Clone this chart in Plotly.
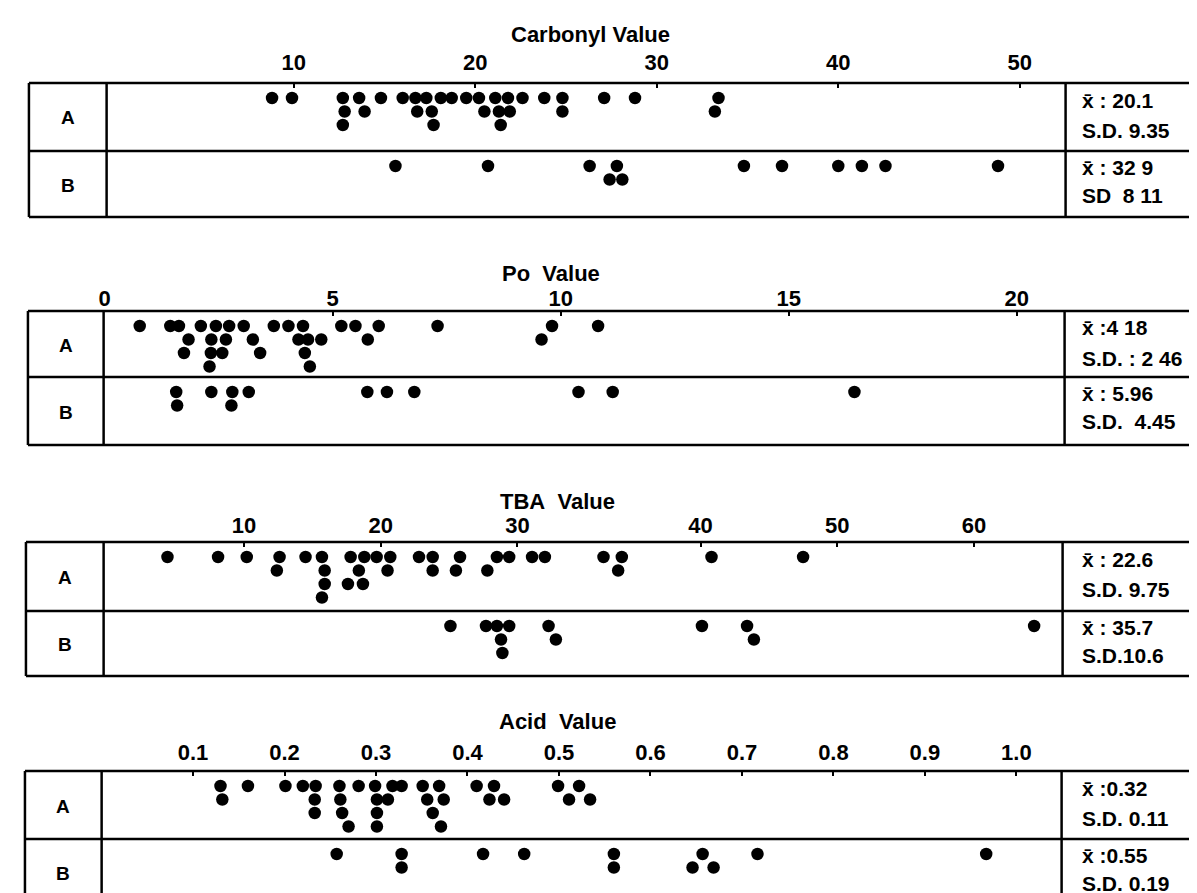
import numpy as np
import plotly.graph_objects as go

W, H = 1197, 893
FONT = "Liberation Sans, Arial, DejaVu Sans"

# ---------------- data ----------------
# Carbonyl value
carbonyl_ticks = [10, 20, 30, 40, 50]
carbonyl_A = [8.8, 9.9, 12.7, 13.6, 14.8, 16.0, 16.7, 17.3, 18.1, 18.7, 19.5, 20.2, 21.1, 21.8,
              22.6, 23.8, 24.8, 27.1, 28.8, 33.4,
              12.8, 13.9, 16.8, 17.6, 20.5, 21.3, 21.9, 24.8, 33.2,
              12.7, 17.7, 21.4]
carbonyl_A_stack = [0, 0, 0, 0, 0, 0, 0, 0, 0, 0, 0, 0, 0, 0, 0, 0, 0, 0, 0, 0,
                    1, 1, 1, 1, 1, 1, 1, 1, 1,
                    2, 2, 2]
carbonyl_B = [15.6, 20.7, 26.3, 27.8, 34.8, 36.9, 40.0, 41.3, 42.6, 48.8,
              27.4, 28.1]
carbonyl_B_stack = [0, 0, 0, 0, 0, 0, 0, 0, 0, 0,
                    1, 1]
carbonyl_stats = [["x\u0304 : 20.1", "S.D. 9.35"], ["x\u0304 : 32 9", "SD\u00a0 8 11"]]

# Po value
po_ticks = [0, 5, 10, 15, 20]
po_A = [0.77, 1.44, 1.63, 2.11, 2.44, 2.73, 3.05, 3.71, 4.03, 4.35, 5.19, 5.50, 6.01, 7.30, 9.81, 10.82,
        1.84, 2.34, 2.66, 3.25, 4.25, 4.46, 4.75, 5.77, 9.58,
        1.74, 2.33, 2.58, 3.41, 4.39,
        2.30, 4.50]
po_A_stack = [0, 0, 0, 0, 0, 0, 0, 0, 0, 0, 0, 0, 0, 0, 0, 0,
              1, 1, 1, 1, 1, 1, 1, 1, 1,
              2, 2, 2, 2, 2,
              3, 3]
po_B = [1.57, 2.34, 2.80, 3.16, 5.76, 6.19, 6.79, 10.39, 11.14, 16.44,
        1.59, 2.78]
po_B_stack = [0, 0, 0, 0, 0, 0, 0, 0, 0, 0,
              1, 1]
po_stats = [["x\u0304 :4 18", "S.D. : 2 46"], ["x\u0304 : 5.96", "S.D.\u00a0 4.45"]]

# TBA value
tba_ticks = [10, 20, 30, 40, 50, 60]
tba_A = [4.4, 8.1, 10.2, 12.6, 14.5, 15.7, 17.8, 18.8, 19.7, 20.7, 22.8, 23.8, 25.8, 28.5,
         29.4, 30.8, 31.5, 34.7, 35.7, 40.8, 47.5,
         12.4, 15.9, 18.4, 20.5, 23.8, 25.5, 27.8, 35.5,
         15.9, 17.6, 18.7,
         15.7]
tba_A_stack = [0, 0, 0, 0, 0, 0, 0, 0, 0, 0, 0, 0, 0, 0, 0, 0, 0, 0, 0, 0, 0,
               1, 1, 1, 1, 1, 1, 1, 1,
               2, 2, 2,
               3]
tba_B = [25.1, 27.7, 28.5, 29.4, 31.7, 40.1, 43.4, 64.4,
         28.8, 32.1, 43.9,
         28.9]
tba_B_stack = [0, 0, 0, 0, 0, 0, 0, 0,
               1, 1, 1,
               2]
tba_stats = [["x\u0304 : 22.6", "S.D. 9.75"], ["x\u0304 : 35.7", "S.D.10.6"]]

# Acid value
acid_ticks = [0.1, 0.2, 0.3, 0.4, 0.5, 0.6, 0.7, 0.8, 0.9, 1.0]
acid_tick_labels = ["0.1", "0.2", "0.3", "0.4", "0.5", "0.6", "0.7", "0.8", "0.9", "1.0"]
acid_A = [0.130, 0.160, 0.201, 0.220, 0.234, 0.260, 0.281, 0.299, 0.318, 0.328, 0.351, 0.369,
          0.410, 0.429, 0.499, 0.522,
          0.132, 0.233, 0.261, 0.301, 0.313, 0.356, 0.374, 0.424, 0.440, 0.511, 0.534,
          0.233, 0.263, 0.301, 0.362,
          0.270, 0.301, 0.371]
acid_A_stack = [0, 0, 0, 0, 0, 0, 0, 0, 0, 0, 0, 0, 0, 0, 0, 0,
                1, 1, 1, 1, 1, 1, 1, 1, 1, 1, 1,
                2, 2, 2, 2,
                3, 3, 3]
acid_B = [0.257, 0.328, 0.417, 0.462, 0.560, 0.657, 0.717, 0.967,
          0.328, 0.560, 0.646, 0.669]
acid_B_stack = [0, 0, 0, 0, 0, 0, 0, 0,
                1, 1, 1, 1]
acid_stats = [["x\u0304 :0.32", "S.D. 0.11"], ["x\u0304 :0.55", "S.D. 0.19"]]

groups = ["A", "B"]

# The printed TBA scale is stretched between 30 and 40 (interval is ~1.34x wider).
TBA_STRETCH = 1.34


def identity(v):
    return np.asarray(v, dtype=float)


def tba_scale(v):
    v = np.asarray(v, dtype=float)
    return np.where(v <= 30, v,
                    np.where(v <= 40, 30 + (v - 30) * TBA_STRETCH, v + 10 * (TBA_STRETCH - 1)))


# ---------------- layout geometry (pixels) ----------------
panels = [
    dict(title="Carbonyl Value", tx=580, ty=27, T=75, M=143, B=209, left=16, dl=94, dr=1057,
         calib=((10, 282), (50, 1011)), scale=identity, ticks=carbonyl_ticks,
         ticktext=[str(t) for t in carbonyl_ticks], data=[(carbonyl_A, carbonyl_A_stack), (carbonyl_B, carbonyl_B_stack)],
         stats=carbonyl_stats, standoff=8),
    dict(title="Po\u00a0 Value", tx=540, ty=265, T=303, M=369, B=437, left=15, dl=91, dr=1056,
         calib=((0, 92), (20, 1008)), scale=identity, ticks=po_ticks,
         ticktext=[str(t) for t in po_ticks], data=[(po_A, po_A_stack), (po_B, po_B_stack)],
         stats=po_stats, standoff=0),
    dict(title="TBA\u00a0 Value", tx=547, ty=493, T=534, M=603, B=668, left=13, dl=91, dr=1054,
         calib=((10, 232), (60, 965)), scale=tba_scale, ticks=tba_ticks,
         ticktext=[str(t) for t in tba_ticks], data=[(tba_A, tba_A_stack), (tba_B, tba_B_stack)],
         stats=tba_stats, standoff=4),
    dict(title="Acid\u00a0 Value", tx=547, ty=713, T=763, M=831, B=898, left=12, dl=89, dr=1053,
         calib=((0.1, 180.8), (1.0, 1007.6)), scale=identity, ticks=acid_ticks,
         ticktext=acid_tick_labels, data=[(acid_A, acid_A_stack), (acid_B, acid_B_stack)],
         stats=acid_stats, standoff=6),
]

ROW_FIRST = 15.0   # offset of first dot row below a row line
ROW_STEP = 13.5    # vertical step between stacked dots
DOT = 12.5


def px(x):
    return x / W


def py(y):
    return 1 - y / H


fig = go.Figure()
shapes, annotations = [], []
layout = {}

for i, p in enumerate(panels, start=1):
    top_id, bot_id = 2 * i - 1, 2 * i
    xa = "x" if top_id == 1 else f"x{top_id}"
    ya = "y" if i == 1 else f"y{i}"
    sc = p["scale"]
    (v0, p0), (v1, p1) = p["calib"]
    u0, u1 = float(sc(v0)), float(sc(v1))
    slope = (p1 - p0) / (u1 - u0)
    rng = [u0 + (p["dl"] - p0) / slope, u0 + (p["dr"] - p0) / slope]
    Bc = min(p["B"], H)

    common = dict(range=rng, showgrid=False, zeroline=False, showline=False,
                  tickmode="array", tickvals=list(sc(p["ticks"])), ticktext=p["ticktext"],
                  ticks="inside", tickcolor="black", tickwidth=2)
    layout["xaxis" if top_id == 1 else f"xaxis{top_id}"] = dict(
        domain=[px(p["dl"]), px(p["dr"])], anchor=ya, side="top", ticklen=5,
        tickfont=dict(family=FONT, size=22, color="black", weight="bold"),
        ticklabelstandoff=p["standoff"], **common)
    layout[f"xaxis{bot_id}"] = dict(
        overlaying=xa, anchor=ya, side="bottom", ticklen=9 if p["B"] <= H else 5,
        showticklabels=False, **common)
    layout["yaxis" if i == 1 else f"yaxis{i}"] = dict(
        domain=[py(Bc), py(p["T"])], range=[Bc, p["T"]], visible=False, fixedrange=True)

    row_tops = [p["T"], p["M"]]
    for g, (vals, stack) in enumerate(p["data"]):
        yv = [row_tops[g] + ROW_FIRST + ROW_STEP * s for s in stack]
        fig.add_trace(go.Scatter(x=sc(vals), y=yv, xaxis=xa, yaxis=ya, mode="markers",
                                 marker=dict(size=DOT, color="black", line=dict(width=0)),
                                 cliponaxis=False, showlegend=False, hoverinfo="skip",
                                 name=f"{p['title']} {groups[g]}"))

    # box lines
    lw = 2.5
    for yline in [p["T"], p["M"], p["B"]]:
        if yline <= H:
            shapes.append(dict(type="line", xref="paper", yref="paper", x0=px(p["left"]), x1=1.0,
                               y0=py(yline), y1=py(yline), line=dict(color="black", width=lw)))
    for xline in [p["left"], p["dl"], p["dr"]]:
        shapes.append(dict(type="line", xref="paper", yref="paper", x0=px(xline), x1=px(xline),
                           y0=py(p["T"]), y1=py(Bc), line=dict(color="black", width=lw)))

    # title
    annotations.append(dict(text=p["title"], x=px(p["tx"]), y=py(p["ty"]), xref="paper", yref="paper",
                            showarrow=False, xanchor="center", yanchor="middle", borderpad=0,
                            font=dict(family=FONT, size=22, color="black", weight="bold")))
    # row labels and statistics
    for g, rt in enumerate(row_tops):
        rb = p["M"] if g == 0 else min(p["B"], H + 5)
        annotations.append(dict(text=groups[g], x=px((p["left"] + p["dl"]) / 2), y=py((rt + rb) / 2 + 1),
                                xref="paper", yref="paper", showarrow=False, borderpad=0,
                                xanchor="center", yanchor="middle",
                                font=dict(family=FONT, size=19, color="black", weight="bold")))
        offs = (17, 47) if g == 0 else (16, 44)
        for line_txt, off in zip(p["stats"][g], offs):
            annotations.append(dict(text=line_txt, x=px(1072), y=py(rt + off), xref="paper", yref="paper",
                                    showarrow=False, xanchor="left", yanchor="middle", borderpad=0,
                                    font=dict(family=FONT, size=21, color="black", weight="bold")))

fig.update_layout(width=W, height=H, margin=dict(l=0, r=0, t=0, b=0),
                  paper_bgcolor="white", plot_bgcolor="rgba(0,0,0,0)",
                  shapes=shapes, annotations=annotations, showlegend=False, **layout)

fig.write_html("out.html")
